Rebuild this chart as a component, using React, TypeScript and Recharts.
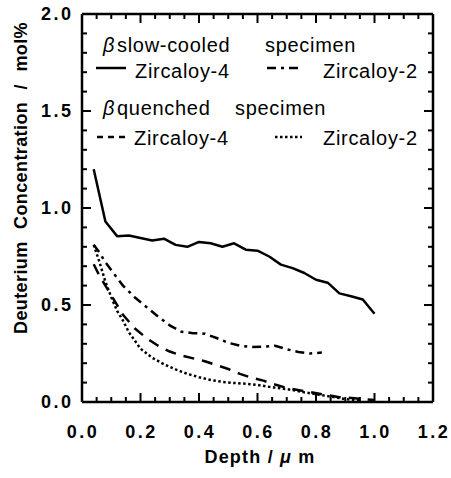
import React from 'react';
import { LineChart, Line, XAxis, YAxis, ReferenceLine } from 'recharts';

// Depth (um) / concentration (mol%)
const slowZr4X = [0.04, 0.08, 0.12, 0.16, 0.2, 0.24, 0.28, 0.32, 0.36, 0.4, 0.44, 0.48, 0.52, 0.56, 0.6, 0.64, 0.68, 0.72, 0.76, 0.8, 0.84, 0.88, 0.92, 0.96, 1.0];
const slowZr4Y = [1.2, 0.93, 0.855, 0.858, 0.845, 0.832, 0.842, 0.81, 0.8, 0.825, 0.818, 0.8, 0.818, 0.785, 0.78, 0.75, 0.708, 0.69, 0.665, 0.63, 0.615, 0.56, 0.545, 0.528, 0.455];

const slowZr2X = [0.04, 0.06, 0.08, 0.11, 0.14, 0.18, 0.22, 0.26, 0.3, 0.34, 0.38, 0.42, 0.46, 0.5, 0.54, 0.58, 0.62, 0.66, 0.7, 0.74, 0.78, 0.82];
const slowZr2Y = [0.81, 0.77, 0.72, 0.66, 0.6, 0.54, 0.49, 0.44, 0.395, 0.362, 0.355, 0.352, 0.33, 0.305, 0.29, 0.283, 0.285, 0.29, 0.272, 0.258, 0.25, 0.255];

const quenchZr4X = [0.04, 0.06, 0.08, 0.1, 0.14, 0.18, 0.22, 0.26, 0.3, 0.34, 0.38, 0.42, 0.46, 0.5, 0.54, 0.58, 0.62, 0.66, 0.7, 0.76, 0.82, 0.88, 0.94, 1.0];
const quenchZr4Y = [0.71, 0.65, 0.6, 0.55, 0.45, 0.38, 0.33, 0.29, 0.26, 0.24, 0.225, 0.21, 0.19, 0.17, 0.145, 0.125, 0.11, 0.09, 0.072, 0.056, 0.04, 0.025, 0.018, 0.01];

const quenchZr2X = [0.04, 0.06, 0.08, 0.1, 0.12, 0.14, 0.16, 0.2, 0.24, 0.28, 0.32, 0.36, 0.4, 0.44, 0.48, 0.52, 0.56, 0.6, 0.64, 0.68, 0.72, 0.76, 0.8, 0.85, 0.9, 0.95];
const quenchZr2Y = [0.81, 0.72, 0.62, 0.54, 0.47, 0.42, 0.36, 0.275, 0.228, 0.195, 0.168, 0.145, 0.128, 0.113, 0.104, 0.098, 0.094, 0.088, 0.078, 0.07, 0.062, 0.05, 0.04, 0.028, 0.015, 0.008];

// major ticks labelled, minor ticks only marked
const xTicks = [0, 0.05, 0.1, 0.15, 0.2, 0.25, 0.3, 0.35, 0.4, 0.45, 0.5, 0.55, 0.6, 0.65, 0.7, 0.75, 0.8, 0.85, 0.9, 0.95, 1.0, 1.05, 1.1, 1.15, 1.2];
const yTicks = [0, 0.1, 0.2, 0.3, 0.4, 0.5, 0.6, 0.7, 0.8, 0.9, 1.0, 1.1, 1.2, 1.3, 1.4, 1.5, 1.6, 1.7, 1.8, 1.9, 2.0];

const toPoints = (xs: number[], ys: number[]) => xs.map((x, i) => ({ x, y: ys[i] }));
const isStep = (v: number, step: number) => Math.abs(v / step - Math.round(v / step)) < 1e-6;

const W = 451;
const H = 478;
const PLOT_W = 351; // frame 82..433
const PLOT_H = 388; // frame 14..402
const X_MARGIN = 19;
const Y_MARGIN = 11;

const tickFont = { fontFamily: 'Liberation Sans, Arial, sans-serif', fontWeight: 700, fontSize: 18, fill: '#000', letterSpacing: 2.5 };
const legendFont = { fontFamily: 'Liberation Sans, Arial, sans-serif', fontSize: 20, fill: '#000', letterSpacing: 0.7 };

// inward ticks on bottom and top edges, label under the major ones
const XTick = (props: any) => {
  const { x, y, payload } = props;
  const v = payload.value as number;
  const major = isStep(v, 0.2);
  const len = major ? 9 : 5;
  const ay = y - X_MARGIN;
  return (
    <g>
      <line x1={x} x2={x} y1={ay} y2={ay - len} stroke="#000" strokeWidth={2} />
      <line x1={x} x2={x} y1={ay - PLOT_H} y2={ay - PLOT_H + len} stroke="#000" strokeWidth={2} />
      {major && (
        <text x={x + 1} y={ay + 36} textAnchor="middle" style={tickFont}>{v.toFixed(1)}</text>
      )}
    </g>
  );
};

// inward ticks on left and right edges
const YTick = (props: any) => {
  const { x, y, payload } = props;
  const v = payload.value as number;
  const major = isStep(v, 0.5);
  const len = major ? 9 : 5;
  const ax = x + Y_MARGIN;
  return (
    <g>
      <line x1={ax} x2={ax + len} y1={y} y2={y} stroke="#000" strokeWidth={2} />
      <line x1={ax + PLOT_W} x2={ax + PLOT_W - len} y1={y} y2={y} stroke="#000" strokeWidth={2} />
      {major && (
        <text x={ax - 8.5} y={y} dy="0.36em" textAnchor="end" style={tickFont}>{v.toFixed(1)}</text>
      )}
    </g>
  );
};

export default function App() {
  return (
    <div style={{ position: 'absolute', left: 0, top: 0, width: W, height: H }}>
      {/* plot box: bottom axis 30 tall, left axis 60 wide */}
      <LineChart width={W} height={H} margin={{ top: 14, right: 18, bottom: 46, left: 22 }}>
        <XAxis dataKey="x" type="number" domain={[0, 1.2]} ticks={xTicks} interval={0} height={30}
          tickSize={0} tickMargin={X_MARGIN} tickLine={false} stroke="#000" strokeWidth={2.5} tick={<XTick />} />
        <YAxis type="number" domain={[0, 2]} ticks={yTicks} interval={0} width={60}
          tickSize={0} tickMargin={Y_MARGIN} tickLine={false} stroke="#000" strokeWidth={2.5} tick={<YTick />} />

        <ReferenceLine y={2} stroke="#000" strokeWidth={2.5} />
        <ReferenceLine x={1.2} stroke="#000" strokeWidth={2.5} />

        <Line data={toPoints(slowZr4X, slowZr4Y)} dataKey="y" stroke="#000" strokeWidth={2.5}
          dot={false} isAnimationActive={false} strokeLinejoin="round" />
        <Line data={toPoints(slowZr2X, slowZr2Y)} dataKey="y" stroke="#000" strokeWidth={2.5}
          strokeDasharray="9 5 3 5" dot={false} isAnimationActive={false} />
        <Line data={toPoints(quenchZr4X, quenchZr4Y)} dataKey="y" stroke="#000" strokeWidth={2.5}
          strokeDasharray="11 8" dot={false} isAnimationActive={false} />
        <Line data={toPoints(quenchZr2X, quenchZr2Y)} dataKey="y" stroke="#000" strokeWidth={2.5}
          strokeDasharray="2.5 2.5" dot={false} isAnimationActive={false} />
      </LineChart>

      {/* axis titles and in-plot legend */}
      <svg width={W} height={H} style={{ position: 'absolute', left: 0, top: 0, pointerEvents: 'none' }}>
        <text x={260} y={463} textAnchor="middle" style={{ ...tickFont, letterSpacing: 1.2 }}>
          Depth / <tspan fontStyle="italic">μ</tspan> m
        </text>
        <text transform="translate(27,178) rotate(-90)" textAnchor="middle"
          style={{ ...tickFont, letterSpacing: 0.4, wordSpacing: 7 }}>
          Deuterium Concentration / mol%
        </text>

        <text x={103} y={52} style={legendFont}><tspan fontStyle="italic">β</tspan></text>
        <text x={117} y={52} style={legendFont}>slow-cooled</text>
        <text x={265} y={52} style={legendFont}>specimen</text>

        <line x1={96} x2={126} y1={68} y2={68} stroke="#000" strokeWidth={2.5} />
        <text x={135} y={78} style={legendFont}>Zircaloy-4</text>
        <line x1={267} x2={303} y1={68} y2={68} stroke="#000" strokeWidth={2.5} strokeDasharray="9 5 3 5" />
        <text x={323} y={78} style={legendFont}>Zircaloy-2</text>

        <text x={103} y={115} style={legendFont}><tspan fontStyle="italic">β</tspan></text>
        <text x={117} y={115} style={legendFont}>quenched</text>
        <text x={235} y={115} style={legendFont}>specimen</text>

        <line x1={97} x2={127} y1={137} y2={137} stroke="#000" strokeWidth={2.5} strokeDasharray="6 5" />
        <text x={134} y={145} style={legendFont}>Zircaloy-4</text>
        <line x1={275} x2={302} y1={137} y2={137} stroke="#000" strokeWidth={2.5} strokeDasharray="2.5 2.5" />
        <text x={323} y={145} style={legendFont}>Zircaloy-2</text>
      </svg>
    </div>
  );
}
